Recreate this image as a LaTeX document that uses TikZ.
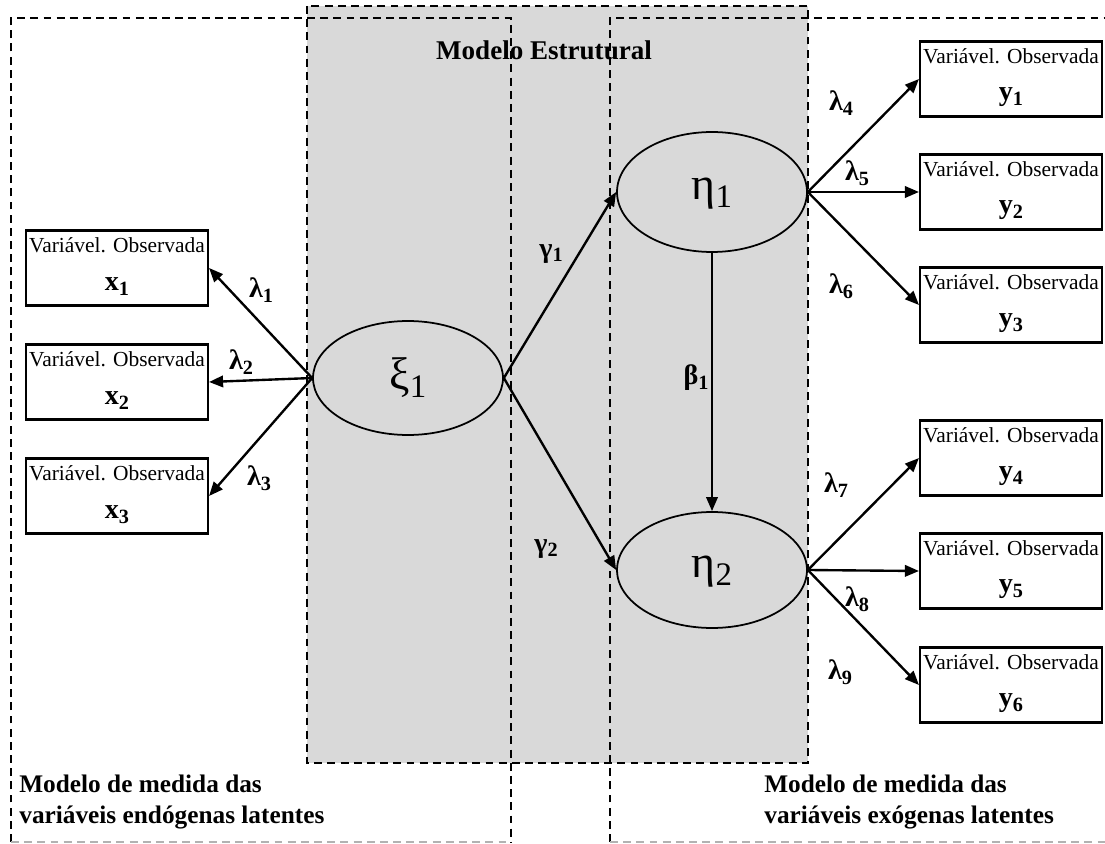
\documentclass[tikz,border=0pt]{standalone}
\usepackage{fontspec}
\setmainfont{Liberation Serif}
\usetikzlibrary{arrows.meta,shapes.geometric,calc}
\definecolor{panel}{HTML}{D9D9D9}
\newcommand{\idx}[1]{\raisebox{-0.35ex}{\scalebox{0.72}{#1}}}

\begin{document}
\begin{tikzpicture}[x=0.02cm,y=-0.02cm,
  frameline/.style={dash pattern=on 4.5pt off 3pt, line width=0.85pt},
  obsbox/.style={draw, line width=1.2pt, minimum width=3.64cm, minimum height=1.5cm, inner sep=0pt},
  obstop/.style={font=\fontsize{12.2}{12}\selectfont, inner sep=0pt},
  obsvar/.style={font=\fontsize{16}{16}\selectfont\bfseries, inner sep=0pt},
  latent/.style={draw, ellipse, fill=panel, line width=1pt, minimum width=3.8cm, inner sep=0pt},
  greekbig/.style={font=\fontsize{26}{26}\selectfont, inner sep=0pt},
  coef/.style={font=\fontsize{16}{16}\selectfont\bfseries, inner sep=0pt},
  path/.style={-{Triangle[length=8pt,width=6.5pt]}, line width=1.35pt},
  caption/.style={font=\fontsize{14.4}{17.6}\selectfont\bfseries, align=left, anchor=west, inner sep=0pt}
]
\useasboundingbox (0,0) rectangle (1105,844);

% structural model panel
\fill[panel] (307,6) rectangle (808,763);
\draw[frameline] (307,6) rectangle (808,763);

% measurement model frames
\draw[frameline] (11,842) -- (11,18) -- (511,18) -- (511,842);
\draw[frameline, gray!60] (11,842) -- (511,842);
\draw[frameline] (610,842) -- (610,18) -- (1105,18);
\draw[frameline, gray!60] (610,842) -- (1105,842);

\node[font=\fontsize{15.4}{15}\selectfont\bfseries, inner sep=0pt] (title) at (544,50) {Modelo Estrutural};

% observed variable boxes
\newcommand{\obs}[3]{%
  \node[obsbox] (#1) at (#2) {};
  \node[obstop] (#1-t) at ($(#1.north)+(0,16)$) {Variável. Observada};
  \node[obsvar] (#1-v) at ($(#1.north)+(0,57)$) {#3};
}
\obs{x1}{117,268}{x\idx{1}}
\obs{x2}{117,382}{x\idx{2}}
\obs{x3}{117,496}{x\idx{3}}
\obs{y1}{1011,79}{y\idx{1}}
\obs{y2}{1011,192}{y\idx{2}}
\obs{y3}{1011,305}{y\idx{3}}
\obs{y4}{1011,458}{y\idx{4}}
\obs{y5}{1011,571}{y\idx{5}}
\obs{y6}{1011,685}{y\idx{6}}

% latent variables
\node[latent, minimum height=2.28cm] (xi) at (408,378) {};
\node[greekbig] (xi-l) at (408,378) {ξ\idx{1}};
\node[latent, minimum height=2.4cm] (eta1) at (712,192) {};
\node[greekbig] (eta1-l) at (712,194) {η\idx{1}};
\node[latent, minimum height=2.32cm] (eta2) at (712,570) {};
\node[greekbig] (eta2-l) at (712,572) {η\idx{2}};

% paths
\draw[path] (xi.west) -- (x1.east);
\draw[path] (xi.west) -- (x2.east);
\draw[path] (xi.west) -- (x3.east);
\draw[path] (xi.east) -- (eta1.west);
\draw[path] (xi.east) -- (eta2.west);
\draw[path] (eta1.south) -- (eta2.north);
\draw[path] (eta1.east) -- (y1.west);
\draw[path] (eta1.east) -- (y2.west);
\draw[path] (eta1.east) -- (y3.west);
\draw[path] (eta2.east) -- (y4.west);
\draw[path] (eta2.east) -- (y5.west);
\draw[path] (eta2.east) -- (y6.west);

% coefficients
\node[coef] (l1) at (261,290) {λ\idx{1}};
\node[coef] (l2) at (241,362) {λ\idx{2}};
\node[coef] (l3) at (259,478) {λ\idx{3}};
\node[coef] (g1) at (551,254) {γ\idx{1}};
\node[coef] (g2) at (546,549) {γ\idx{2}};
\node[coef] (b1) at (696,378) {β\idx{1}};
\node[coef] (l4) at (841,103) {λ\idx{4}};
\node[coef] (l5) at (857,173) {λ\idx{5}};
\node[coef] (l6) at (841,286) {λ\idx{6}};
\node[coef] (l7) at (836,485) {λ\idx{7}};
\node[coef] (l8) at (857,599) {λ\idx{8}};
\node[coef] (l9) at (840,672) {λ\idx{9}};

% frame captions
\node[caption] (capl) at (19,802) {Modelo de medida das\\variáveis endógenas latentes};
\node[caption] (capr) at (764,802) {Modelo de medida das\\variáveis exógenas latentes};
\end{tikzpicture}
\end{document}
